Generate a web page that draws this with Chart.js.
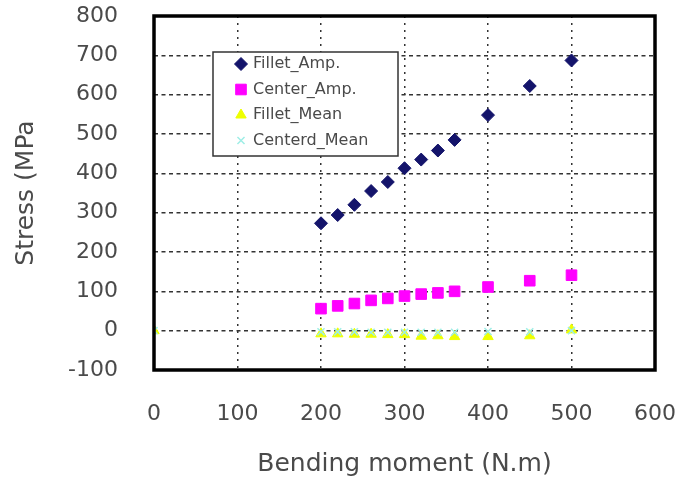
<!DOCTYPE html>
<html>
<head>
<meta charset="utf-8">
<style>
  html, body { margin: 0; padding: 0; background: #fff; }
  #wrap { width: 676px; height: 477px; }
</style>
<script src="https://cdn.jsdelivr.net/npm/chart.js"></script>
</head>
<body>
<div id="wrap"><canvas id="main-chart" width="676" height="477"></canvas></div>
<script>
// bending moment (N.m)
const ampMoments = [200, 220, 240, 260, 280, 300, 320, 340, 360, 400, 450, 500];
const meanMoments = [0, 200, 220, 240, 260, 280, 300, 320, 340, 360, 400, 450, 500];

// stress (MPa)
const filletAmp = [273, 294, 320, 355, 378, 413, 435, 458, 485, 548, 622, 687];
const centerAmp = [56, 63, 69, 77, 82, 88, 93, 96, 100, 111, 127, 141];
const filletMean = [0, -8, -8, -9, -9, -10, -10, -14, -13, -15, -15, -13, 2];
const centerMean = [0, -3, -3, -3, -4, -4, -4, -4, -4, -4, -2, -3, 0];

const xTicks = [0, 100, 200, 300, 400, 500, 600];
const yTicks = [-100, 0, 100, 200, 300, 400, 500, 600, 700, 800];

function toPoints(xs, ys) {
    return xs.map((x, i) => ({ x: x, y: ys[i] }));
}

const textColor = "#4a4a4a";
const fontFamily = "DejaVu Sans";

// no extra room for tick label overflow, layout padding decides
function noOverflow(scale) {
    scale.paddingLeft = 0;
    scale.paddingRight = 0;
    scale.paddingTop = 0;
    scale.paddingBottom = 0;
}

// draws the black frame around the plot area
const frameBox = {
    id: "frameBox",
    afterDraw(chart) {
        const { ctx, chartArea } = chart;
        ctx.save();
        ctx.strokeStyle = "#000";
        ctx.lineWidth = 3.5;
        ctx.strokeRect(chartArea.left, chartArea.top,
            chartArea.right - chartArea.left, chartArea.bottom - chartArea.top);
        ctx.restore();
    },
};

// legend box inside the plot, like the original
const insideLegend = {
    id: "insideLegend",
    afterDraw(chart) {
        const ctx = chart.ctx;
        const x0 = 213, y0 = 52, w = 185, h = 104;
        ctx.save();
        ctx.fillStyle = "#fff";
        ctx.fillRect(x0, y0, w, h);
        ctx.strokeStyle = "#333";
        ctx.lineWidth = 1.5;
        ctx.strokeRect(x0, y0, w, h);
        ctx.font = "16px " + fontFamily;
        ctx.textBaseline = "middle";
        ctx.textAlign = "left";
        chart.data.datasets.forEach((ds, i) => {
            const cy = 64 + i * 25.5;
            ctx.fillStyle = ds.backgroundColor;
            ctx.strokeStyle = ds.borderColor;
            ctx.lineWidth = ds.borderWidth;
            Chart.helpers.drawPoint(ctx, {
                pointStyle: ds.pointStyle,
                radius: ds.pointRadius,
                borderWidth: ds.borderWidth,
                rotation: 0,
            }, 241, cy);
            ctx.fillStyle = textColor;
            ctx.fillText(ds.label, 253, cy);
        });
        ctx.restore();
    },
};

const chartCanvas = document.getElementById("main-chart");

const stressChart = new Chart(chartCanvas, {
    type: "scatter",
    data: {
        datasets: [
            {
                label: "Fillet_Amp.",
                data: toPoints(ampMoments, filletAmp),
                pointStyle: "rectRot",
                pointRadius: 6.5,
                borderWidth: 1,
                backgroundColor: "#14146b",
                borderColor: "#14146b",
            },
            {
                label: "Center_Amp.",
                data: toPoints(ampMoments, centerAmp),
                pointStyle: "rect",
                pointRadius: 7.5,
                borderWidth: 1,
                backgroundColor: "#ff00ff",
                borderColor: "#ff00ff",
            },
            {
                label: "Fillet_Mean",
                data: toPoints(meanMoments, filletMean),
                pointStyle: "triangle",
                pointRadius: 6,
                borderWidth: 1,
                backgroundColor: "#eeff00",
                borderColor: "#eeff00",
            },
            {
                label: "Centerd_Mean",
                data: toPoints(meanMoments, centerMean),
                order: -1,
                pointStyle: "crossRot",
                pointRadius: 5,
                borderWidth: 1.5,
                backgroundColor: "#9feee6",
                borderColor: "#9feee6",
            },
        ],
    },
    options: {
        responsive: false,
        animation: false,
        events: [],
        layout: {
            padding: { top: 16, left: 0, right: 21, bottom: 0 },
        },
        scales: {
            x: {
                type: "linear",
                min: 0,
                max: 600,
                afterBuildTicks: (scale) => {
                    scale.ticks = xTicks.map((v) => ({ value: v }));
                },
                afterFit: (scale) => {
                    scale.height = 107;
                    noOverflow(scale);
                },
                grid: {
                    color: "#333",
                    lineWidth: 1.5,
                    drawTicks: false,
                },
                border: { display: false, dash: [2, 5] },
                ticks: {
                    padding: 31,
                    color: textColor,
                    font: { family: fontFamily, size: 22 },
                    maxRotation: 0,
                },
                title: {
                    display: true,
                    text: "Bending moment (N.m)",
                    color: textColor,
                    font: { family: fontFamily, size: 25, lineHeight: 1 },
                    padding: { top: 0, bottom: 0 },
                },
            },
            y: {
                type: "linear",
                min: -100,
                max: 800,
                afterBuildTicks: (scale) => {
                    scale.ticks = yTicks.map((v) => ({ value: v }));
                },
                afterFit: (scale) => {
                    scale.width = 154;
                    noOverflow(scale);
                },
                grid: {
                    color: "#333",
                    lineWidth: 1.5,
                    drawTicks: false,
                },
                border: { display: false, dash: [4, 3.5] },
                ticks: {
                    padding: 36,
                    color: textColor,
                    font: { family: fontFamily, size: 22 },
                },
                title: {
                    display: true,
                    text: "Stress (MPa",
                    color: textColor,
                    font: { family: fontFamily, size: 25, lineHeight: 1 },
                    padding: { top: 13.5, bottom: 0 },
                },
            },
        },
        plugins: {
            legend: { display: false },
            tooltip: { enabled: false },
        },
    },
    plugins: [frameBox, insideLegend],
});
</script>
</body>
</html>
